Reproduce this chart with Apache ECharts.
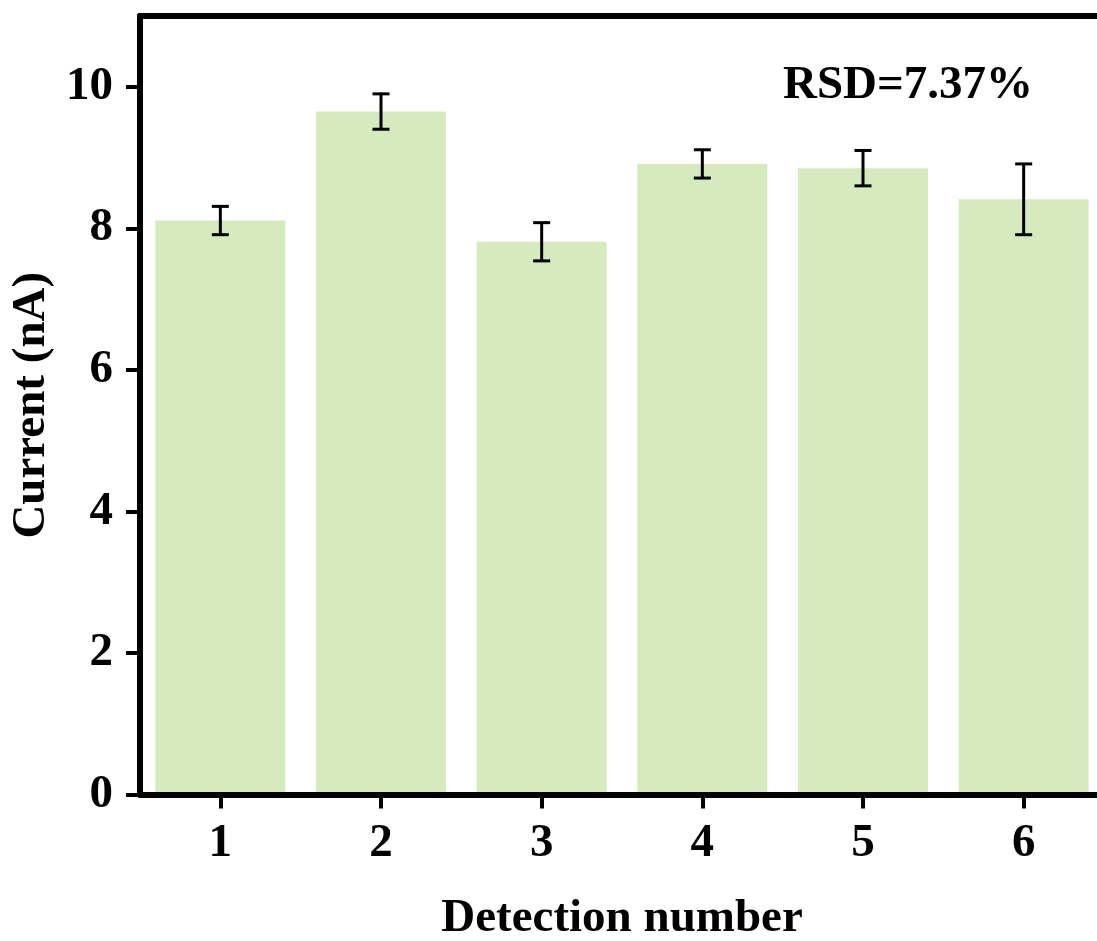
<!DOCTYPE html>
<html>
<head>
<meta charset="utf-8">
<title>Current per detection</title>
<script src="https://cdn.jsdelivr.net/npm/echarts@6/dist/echarts.min.js"></script>
<style>
  html, body { margin: 0; padding: 0; background: #ffffff; }
  #chart { width: 1097px; height: 941px; }
</style>
</head>
<body>
<div id="chart"></div>
<script>
// Detection runs and measured current (nA) with standard deviation
const categories = ['1', '2', '3', '4', '5', '6'];
const currents = [8.11, 9.65, 7.81, 8.91, 8.85, 8.41];
const errors = [0.20, 0.25, 0.27, 0.20, 0.25, 0.50];
const yTicks = [0, 2, 4, 6, 8, 10];
const rsdText = 'RSD=7.37%';

const FONT = "'Liberation Serif', 'Times New Roman', serif";
const INK = '#000000';

const errorData = currents.map((v, i) => [i, v - errors[i], v + errors[i]]);

const chart = echarts.init(document.getElementById('chart'), null, { renderer: 'canvas' });

chart.setOption({
  backgroundColor: '#ffffff',
  animation: false,
  grid: { left: 140, top: 16, right: -7, bottom: 146.5, outerBoundsMode: 'none', containLabel: false },
  xAxis: [
    {
      type: 'category',
      data: categories,
      position: 'bottom',
      z: 10,
      name: 'Detection number',
      nameLocation: 'middle',
      nameGap: 101,
      nameTextStyle: { fontFamily: FONT, fontWeight: 'bold', fontSize: 47, color: INK },
      axisLine: { show: true, lineStyle: { color: INK, width: 6 } },
      axisTick: { show: true, alignWithLabel: true, length: 14, lineStyle: { color: INK, width: 4 } },
      axisLabel: { margin: 26, fontFamily: FONT, fontWeight: 'bold', fontSize: 47, color: INK },
      splitLine: { show: false }
    },
    {
      type: 'category',
      data: categories,
      position: 'top',
      z: 10,
      axisLine: { show: true, lineStyle: { color: INK, width: 6 } },
      axisTick: { show: false },
      axisLabel: { show: false },
      splitLine: { show: false }
    }
  ],
  yAxis: {
    type: 'value',
    min: 0,
    max: 11,
    interval: 2,
    z: 10,
    name: 'Current (nA)',
    nameLocation: 'middle',
    nameGap: 82,
    nameTextStyle: { fontFamily: FONT, fontWeight: 'bold', fontSize: 47, color: INK },
    axisLine: { show: true, lineStyle: { color: INK, width: 6 } },
    axisTick: { show: true, length: 14, customValues: yTicks, lineStyle: { color: INK, width: 4 } },
    axisLabel: { margin: 27, customValues: yTicks, fontFamily: FONT, fontWeight: 'bold', fontSize: 47, color: INK },
    splitLine: { show: false }
  },
  graphic: [
    {
      type: 'text',
      left: 783,
      top: 62,
      style: { text: rsdText, font: 'bold 47px ' + FONT, fill: INK }
    }
  ],
  series: [
    {
      type: 'bar',
      data: currents,
      barWidth: 130,
      itemStyle: { color: '#d5eabd' },
      z: 2
    },
    {
      type: 'custom',
      data: errorData,
      z: 5,
      renderItem: function (params, api) {
        const x = api.value(0);
        const lo = api.coord([x, api.value(1)]);
        const hi = api.coord([x, api.value(2)]);
        const half = 8.5;
        const style = { stroke: INK, lineWidth: 3 };
        return {
          type: 'group',
          children: [
            { type: 'line', shape: { x1: lo[0], y1: lo[1], x2: hi[0], y2: hi[1] }, style: style },
            { type: 'line', shape: { x1: hi[0] - half, y1: hi[1], x2: hi[0] + half, y2: hi[1] }, style: style },
            { type: 'line', shape: { x1: lo[0] - half, y1: lo[1], x2: lo[0] + half, y2: lo[1] }, style: style }
          ]
        };
      }
    }
  ]
});
</script>
</body>
</html>
